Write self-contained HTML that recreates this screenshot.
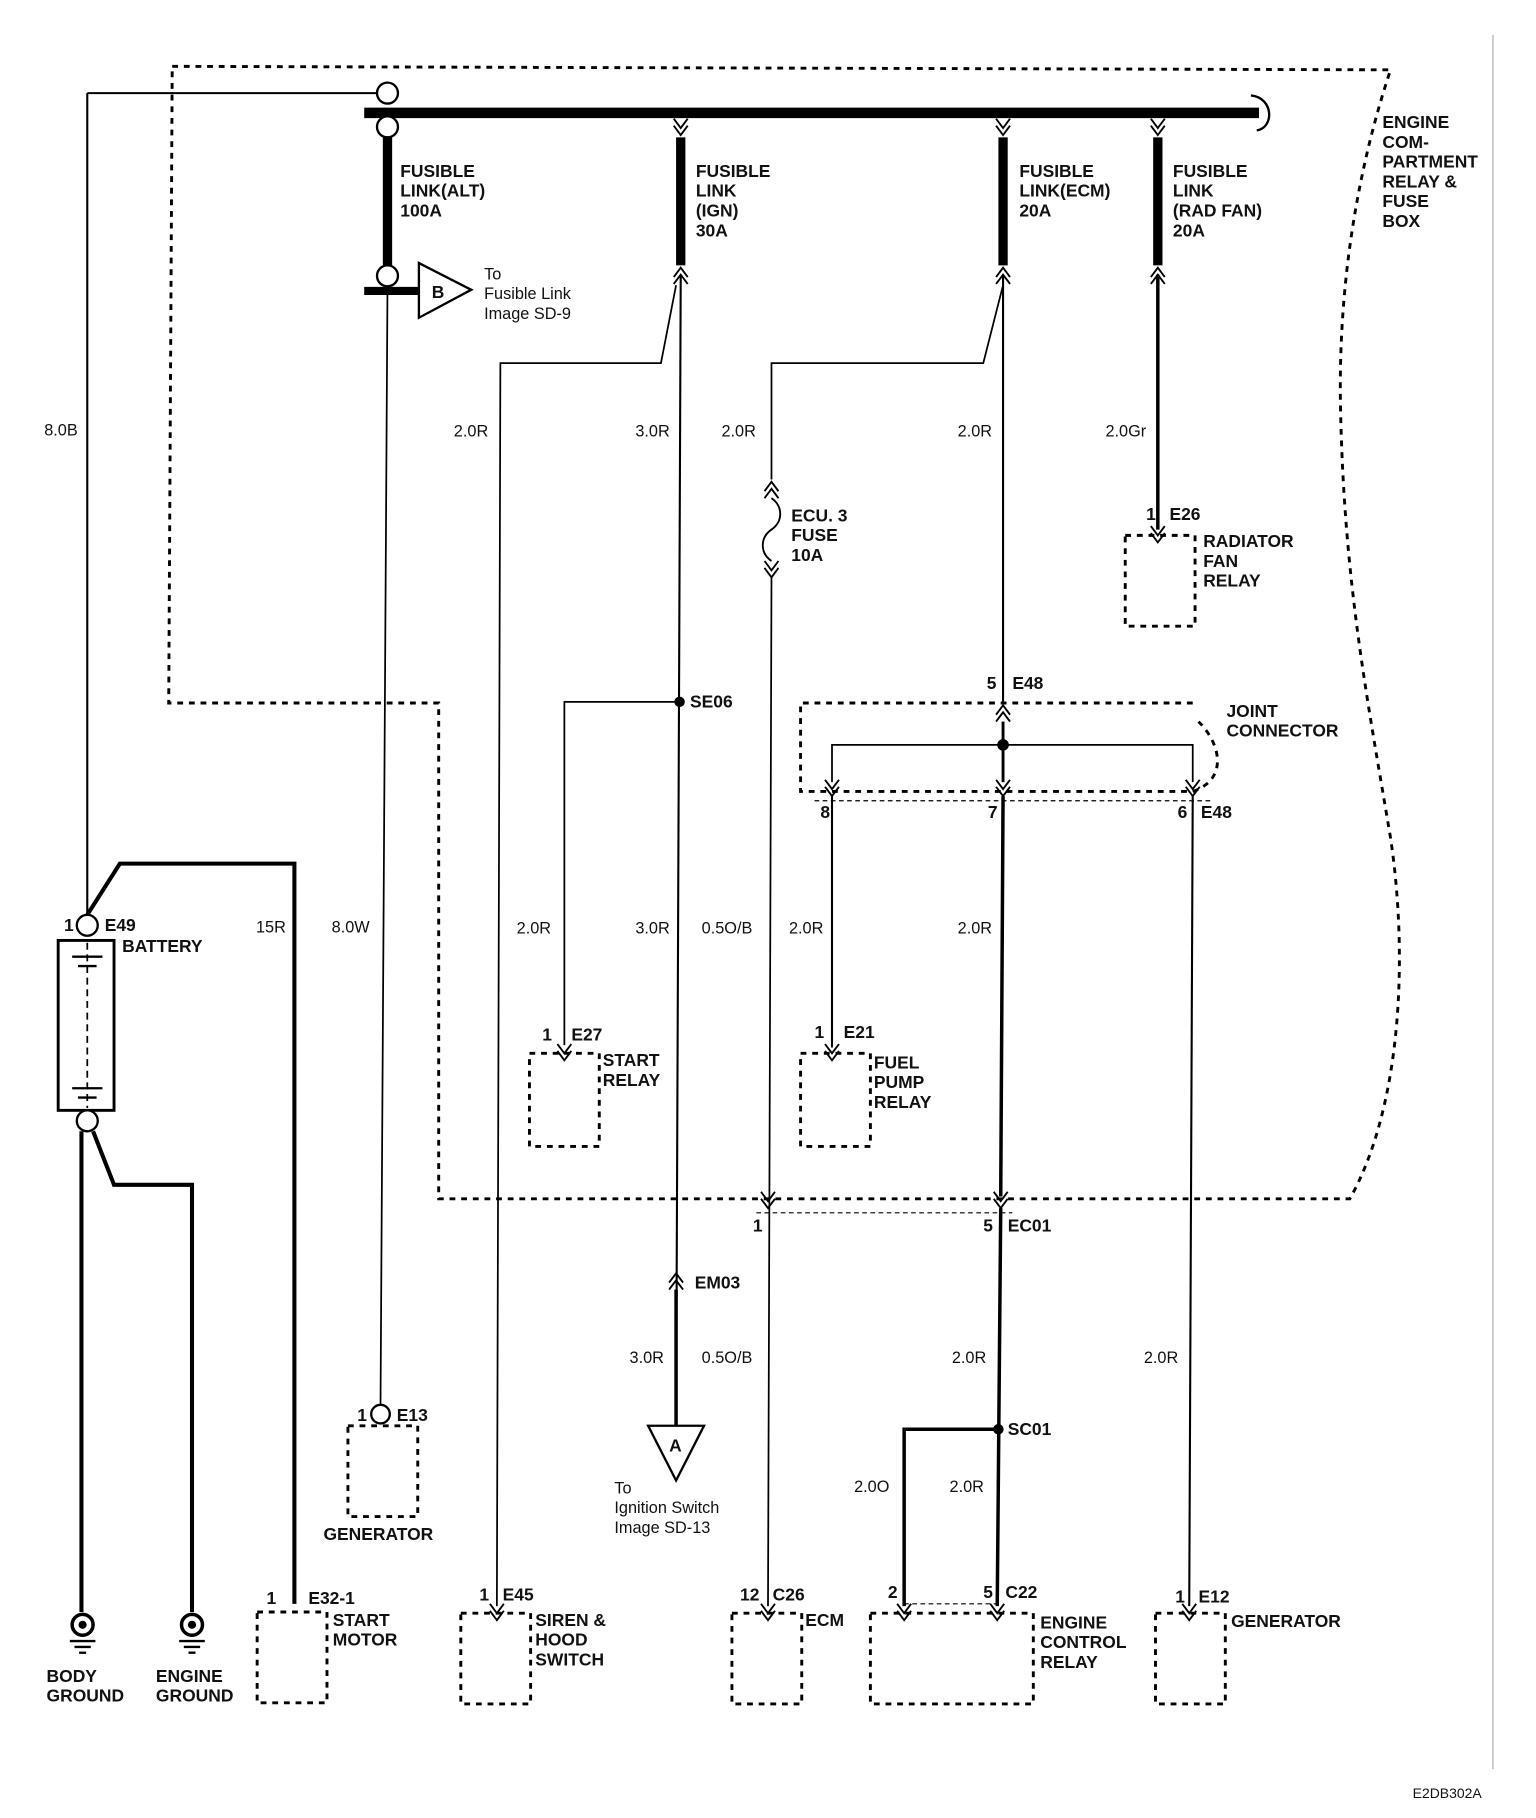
<!DOCTYPE html>
<html><head><meta charset="utf-8"><style>
html,body{margin:0;padding:0;background:#fff}
svg{display:block}
text{font-family:"Liberation Sans",Arial,sans-serif;fill:#111}
.b{font-weight:bold;font-size:15px}
.n{font-size:14px}
</style></head><body>
<svg width="1536" height="1818" viewBox="0 0 1320 1562" preserveAspectRatio="none" xmlns="http://www.w3.org/2000/svg">
<defs>
<g id="dn"><polyline points="-6,-8 0,0 6,-8" fill="none" stroke="#000" stroke-width="1.6"/><polyline points="-6,-2 0,6 6,-2" fill="none" stroke="#000" stroke-width="1.6"/></g>
<g id="up"><polyline points="-6,8 0,0 6,8" fill="none" stroke="#000" stroke-width="1.6"/><polyline points="-6,14 0,6 6,14" fill="none" stroke="#000" stroke-width="1.6"/></g>
</defs>
<g fill="none" stroke="#000">
<!-- engine compartment box -->
<path d="M148,57 L1195,60 C1165,150 1150,250 1152,350 C1155,500 1175,600 1195,720 C1210,820 1205,950 1160,1030 L377,1030 L377,604 L145,604 Z" stroke-width="2.5" stroke-dasharray="5,5"/>
<!-- bus bar -->
<line x1="313" y1="97" x2="1082" y2="97" stroke-width="9"/>
<path d="M1075,82 C1095,84 1095,110 1080,112" stroke-width="2"/>
<line x1="75" y1="80" x2="324" y2="80" stroke-width="1.8"/>
<line x1="75" y1="80" x2="75" y2="786" stroke-width="1.8"/>
<circle cx="333" cy="80" r="9" fill="#fff" stroke-width="2"/>
<circle cx="333" cy="109" r="9" fill="#fff" stroke-width="2"/>
<line x1="333" y1="118" x2="333" y2="228" stroke-width="8"/>
<circle cx="333" cy="237" r="9" fill="#fff" stroke-width="2"/>
<line x1="313" y1="250" x2="360" y2="250" stroke-width="7"/>
<polygon points="360,226 360,273 405,249" fill="#fff" stroke-width="2"/>
<line x1="333" y1="246" x2="327" y2="1207" stroke-width="1.5"/>
<!-- IGN -->
<use href="#dn" x="585" y="110"/>
<line x1="585" y1="118" x2="585" y2="228" stroke-width="8"/>
<use href="#up" x="585" y="230"/>
<line x1="585" y1="236" x2="581" y2="1225" stroke-width="1.8"/>
<polyline points="581,245 568,312 430,312 427,1380" stroke-width="1.5"/>
<circle cx="584" cy="603" r="4" fill="#000"/>
<polyline points="584,603 485,603 485,898" stroke-width="1.5"/>
<use href="#up" x="581" y="1094"/>
<line x1="581" y1="1108" x2="581" y2="1225" stroke-width="3"/>
<polygon points="557,1225 605,1225 581,1272" fill="#fff" stroke-width="2"/>
<!-- ECM link -->
<use href="#dn" x="862" y="110"/>
<line x1="862" y1="118" x2="862" y2="228" stroke-width="8"/>
<use href="#up" x="862" y="230"/>
<line x1="862" y1="236" x2="862" y2="604" stroke-width="1.8"/>
<polyline points="862,245 845,312 663,312 663,412" stroke-width="1.5"/>
<use href="#up" x="663" y="414"/>
<path d="M663,428 C673,435 673,448 663,455 C653,462 653,475 663,482" stroke-width="1.6"/>
<use href="#dn" x="663" y="490"/>
<line x1="663" y1="496" x2="660" y2="1380" stroke-width="1.5"/>
<!-- rad fan -->
<use href="#dn" x="995" y="110"/>
<line x1="995" y1="118" x2="995" y2="228" stroke-width="8"/>
<use href="#up" x="995" y="230"/>
<line x1="995" y1="236" x2="995" y2="455" stroke-width="3"/>
<rect x="967" y="460" width="60" height="78" stroke-width="2.5" stroke-dasharray="5,5"/>
<!-- joint connector -->
<path d="M1025,604 L688,604 L688,680 L1025,680 C1055,670 1050,640 1030,620" stroke-width="2.5" stroke-dasharray="5,5"/>
<use href="#up" x="862" y="606"/>
<line x1="862" y1="620" x2="862" y2="672" stroke-width="2.5"/>
<circle cx="862" cy="640" r="4.5" fill="#000"/>
<polyline points="715,672 715,640 1025,640 1025,672" stroke-width="1.5"/>
<use href="#dn" x="715" y="678"/><use href="#dn" x="862" y="678"/><use href="#dn" x="1025" y="678"/>
<line x1="700" y1="688" x2="1040" y2="688" stroke-width="1" stroke-dasharray="4,3"/>
<line x1="715" y1="684" x2="715" y2="900" stroke-width="1.8"/>
<line x1="862" y1="684" x2="860" y2="1028" stroke-width="3"/>
<line x1="1025" y1="684" x2="1022" y2="1380" stroke-width="1.8"/>
<!-- EC01 -->
<use href="#dn" x="660" y="1032"/><use href="#dn" x="860" y="1032"/>
<line x1="650" y1="1042" x2="870" y2="1042" stroke-width="1" stroke-dasharray="4,3"/>
<line x1="860" y1="1038" x2="857" y2="1380" stroke-width="3"/>
<circle cx="858" cy="1228" r="4" fill="#000"/>
<polyline points="858,1228 777,1228 777,1380" stroke-width="3"/>
<line x1="777" y1="1378" x2="857" y2="1378" stroke-width="1" stroke-dasharray="4,3"/>
<!-- battery -->
<circle cx="75" cy="795" r="9" fill="#fff" stroke-width="2"/>
<rect x="50" y="808" width="48" height="146" stroke-width="2.5"/>
<line x1="75" y1="810" x2="75" y2="952" stroke-width="1.5" stroke-dasharray="6,4"/>
<line x1="62" y1="822" x2="88" y2="822" stroke-width="2"/><line x1="67" y1="830" x2="83" y2="830" stroke-width="2"/>
<line x1="62" y1="935" x2="88" y2="935" stroke-width="2"/><line x1="67" y1="943" x2="83" y2="943" stroke-width="2"/>
<circle cx="75" cy="963" r="9" fill="#fff" stroke-width="2"/>
<polyline points="75,786 103,742 253,742 253,1378" stroke-width="3.5"/>
<polyline points="70,972 70,1385" stroke-width="3.5"/>
<polyline points="80,972 98,1018 165,1018 165,1385" stroke-width="3.5"/>
<circle cx="71" cy="1396" r="9" stroke-width="3"/><circle cx="71" cy="1396" r="3" fill="#000"/>
<line x1="60" y1="1410" x2="82" y2="1410" stroke-width="2"/><line x1="64" y1="1415" x2="78" y2="1415" stroke-width="2"/><line x1="68" y1="1420" x2="74" y2="1420" stroke-width="2"/>
<circle cx="165" cy="1396" r="9" stroke-width="3"/><circle cx="165" cy="1396" r="3" fill="#000"/>
<line x1="154" y1="1410" x2="176" y2="1410" stroke-width="2"/><line x1="158" y1="1415" x2="172" y2="1415" stroke-width="2"/><line x1="162" y1="1420" x2="168" y2="1420" stroke-width="2"/>
<!-- connectors & boxes -->
<circle cx="327" cy="1215" r="8" fill="#fff" stroke-width="2"/>
<rect x="299" y="1225" width="60" height="78" stroke-width="2.5" stroke-dasharray="5,5"/>
<circle cx="253" cy="1373" r="0" />
<rect x="221" y="1385" width="60" height="78" stroke-width="2.5" stroke-dasharray="5,5"/>
<use href="#dn" x="427" y="1386"/><rect x="396" y="1386" width="60" height="78" stroke-width="2.5" stroke-dasharray="5,5"/>
<use href="#dn" x="485" y="905"/><rect x="455" y="905" width="60" height="80" stroke-width="2.5" stroke-dasharray="5,5"/>
<use href="#dn" x="715" y="905"/><rect x="688" y="905" width="60" height="80" stroke-width="2.5" stroke-dasharray="5,5"/>
<use href="#dn" x="995" y="460"/>
<use href="#dn" x="660" y="1386"/><rect x="629" y="1386" width="60" height="78" stroke-width="2.5" stroke-dasharray="5,5"/>
<use href="#dn" x="777" y="1386"/><use href="#dn" x="857" y="1386"/><rect x="748" y="1386" width="140" height="78" stroke-width="2.5" stroke-dasharray="5,5"/>
<use href="#dn" x="1022" y="1386"/><rect x="993" y="1386" width="60" height="78" stroke-width="2.5" stroke-dasharray="5,5"/>
<line x1="1283" y1="30" x2="1283" y2="1520" stroke-width="1" stroke="#aaa"/>
</g>
<g>
<text class="b" x="344" y="152">FUSIBLE</text><text class="b" x="344" y="169">LINK(ALT)</text><text class="b" x="344" y="186">100A</text>
<text class="b" x="598" y="152">FUSIBLE</text><text class="b" x="598" y="169">LINK</text><text class="b" x="598" y="186">(IGN)</text><text class="b" x="598" y="203">30A</text>
<text class="b" x="876" y="152">FUSIBLE</text><text class="b" x="876" y="169">LINK(ECM)</text><text class="b" x="876" y="186">20A</text>
<text class="b" x="1008" y="152">FUSIBLE</text><text class="b" x="1008" y="169">LINK</text><text class="b" x="1008" y="186">(RAD FAN)</text><text class="b" x="1008" y="203">20A</text>
<text class="b" x="1188" y="110">ENGINE</text><text class="b" x="1188" y="127">COM-</text><text class="b" x="1188" y="144">PARTMENT</text><text class="b" x="1188" y="161">RELAY &amp;</text><text class="b" x="1188" y="178">FUSE</text><text class="b" x="1188" y="195">BOX</text>
<text class="b" x="371" y="256">B</text>
<text class="n" x="416" y="240">To</text><text class="n" x="416" y="257">Fusible Link</text><text class="n" x="416" y="274">Image SD-9</text>
<text class="n" x="38" y="374">8.0B</text>
<text class="n" x="390" y="375">2.0R</text><text class="n" x="546" y="375">3.0R</text><text class="n" x="620" y="375">2.0R</text><text class="n" x="823" y="375">2.0R</text><text class="n" x="950" y="375">2.0Gr</text>
<text class="b" x="680" y="448">ECU. 3</text><text class="b" x="680" y="465">FUSE</text><text class="b" x="680" y="482">10A</text>
<text class="b" x="985" y="447">1</text><text class="b" x="1005" y="447">E26</text>
<text class="b" x="1034" y="470">RADIATOR</text><text class="b" x="1034" y="487">FAN</text><text class="b" x="1034" y="504">RELAY</text>
<text class="b" x="848" y="592">5</text><text class="b" x="870" y="592">E48</text>
<text class="b" x="1054" y="616">JOINT</text><text class="b" x="1054" y="633">CONNECTOR</text>
<text class="b" x="593" y="608">SE06</text>
<text class="b" x="705" y="703">8</text><text class="b" x="849" y="703">7</text><text class="b" x="1012" y="703">6</text><text class="b" x="1032" y="703">E48</text>
<text class="b" x="55" y="800">1</text><text class="b" x="90" y="800">E49</text><text class="b" x="105" y="818">BATTERY</text>
<text class="n" x="220" y="801">15R</text><text class="n" x="285" y="801">8.0W</text>
<text class="n" x="444" y="802">2.0R</text><text class="n" x="546" y="802">3.0R</text><text class="n" x="603" y="802">0.5O/B</text><text class="n" x="678" y="802">2.0R</text><text class="n" x="823" y="802">2.0R</text>
<text class="b" x="466" y="894">1</text><text class="b" x="491" y="894">E27</text>
<text class="b" x="518" y="916">START</text><text class="b" x="518" y="933">RELAY</text>
<text class="b" x="700" y="892">1</text><text class="b" x="725" y="892">E21</text>
<text class="b" x="751" y="918">FUEL</text><text class="b" x="751" y="935">PUMP</text><text class="b" x="751" y="952">RELAY</text>
<text class="b" x="647" y="1058">1</text><text class="b" x="845" y="1058">5</text><text class="b" x="866" y="1058">EC01</text>
<text class="b" x="597" y="1107">EM03</text>
<text class="n" x="541" y="1171">3.0R</text><text class="n" x="603" y="1171">0.5O/B</text><text class="n" x="818" y="1171">2.0R</text><text class="n" x="983" y="1171">2.0R</text>
<text class="b" x="575" y="1247">A</text>
<text class="n" x="528" y="1283">To</text><text class="n" x="528" y="1300">Ignition Switch</text><text class="n" x="528" y="1317">Image SD-13</text>
<text class="b" x="866" y="1233">SC01</text>
<text class="n" x="734" y="1282">2.0O</text><text class="n" x="816" y="1282">2.0R</text>
<text class="b" x="307" y="1221">1</text><text class="b" x="341" y="1221">E13</text>
<text class="b" x="278" y="1323">GENERATOR</text>
<text class="b" x="229" y="1378">1</text><text class="b" x="265" y="1378">E32-1</text>
<text class="b" x="286" y="1397">START</text><text class="b" x="286" y="1414">MOTOR</text>
<text class="b" x="412" y="1375">1</text><text class="b" x="432" y="1375">E45</text>
<text class="b" x="460" y="1397">SIREN &amp;</text><text class="b" x="460" y="1414">HOOD</text><text class="b" x="460" y="1431">SWITCH</text>
<text class="b" x="636" y="1375">12</text><text class="b" x="664" y="1375">C26</text><text class="b" x="692" y="1397">ECM</text>
<text class="b" x="763" y="1373">2</text><text class="b" x="845" y="1373">5</text><text class="b" x="864" y="1373">C22</text>
<text class="b" x="894" y="1399">ENGINE</text><text class="b" x="894" y="1416">CONTROL</text><text class="b" x="894" y="1433">RELAY</text>
<text class="b" x="1010" y="1377">1</text><text class="b" x="1030" y="1377">E12</text><text class="b" x="1058" y="1398">GENERATOR</text>
<text class="b" x="40" y="1445">BODY</text><text class="b" x="40" y="1462">GROUND</text>
<text class="b" x="134" y="1445">ENGINE</text><text class="b" x="134" y="1462">GROUND</text>
<text class="n" x="1214" y="1545" style="font-size:12px">E2DB302A</text>
</g>
</svg>
</body></html>
